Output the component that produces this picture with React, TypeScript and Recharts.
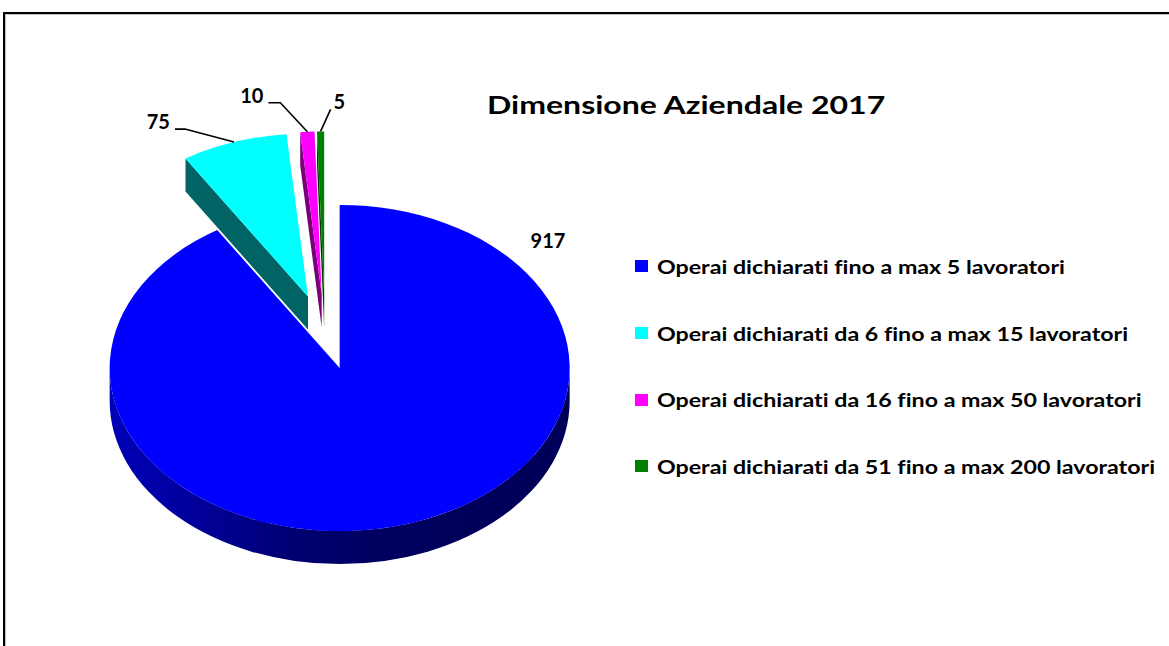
import { Cell, Legend, Pie, PieChart } from 'recharts';

const CATEGORIES = [
  'Operai dichiarati fino a max 5 lavoratori',
  'Operai dichiarati da 6 fino a max 15 lavoratori',
  'Operai dichiarati da 16 fino a max 50 lavoratori',
  'Operai dichiarati da 51 fino a max 200 lavoratori',
];
const VALUES = [917, 75, 10, 5];
const TOP_COLORS = ['#0000ff', '#00ffff', '#ff00ff', '#008000'];
const SIDE_COLORS = ['url(#blueSide)', '#006464', '#7a007a', '#003c00'];
const TITLE = 'Dimensione Aziendale 2017';

const W = 1169;
const H = 646;
const FONT = 'Lato, "Open Sans", sans-serif';
const TILT = 0.709; // ellipse ry / rx
const DEPTH = 33;
const EXPLODE = 0.23;
const RAD = Math.PI / 180;

// where each value label sits: on the ellipse (angle, r) or via a leader elbow from the rim
const LABEL_LAYOUT: any[] = [
  { angle: 41, r: 1.2 },
  { dx: -49, dy: -13, tail: -10 },
  { dx: -27, dy: -29, tail: -12 },
  { dx: 10, dy: -22, tail: 0 },
];

const data = CATEGORIES.map((name, i) => ({ name, value: VALUES[i] }));

function geom(cx: number, cy: number, r: number, mid: number) {
  const rx = r;
  const ry = r * TILT;
  const ox = cx + EXPLODE * rx * Math.cos(mid * RAD);
  const oy = cy - EXPLODE * ry * Math.sin(mid * RAD);
  const at = (a: number, k = 1, dz = 0) => [ox + k * rx * Math.cos(a * RAD), oy - k * ry * Math.sin(a * RAD) + dz];
  return { rx, ry, ox, oy, at };
}

function Slice3D(props: any) {
  const { cx, cy, outerRadius, startAngle, endAngle, midAngle, index } = props;
  const { rx, ry, ox, oy, at } = geom(cx, cy, outerRadius, midAngle);
  const hi = Math.max(startAngle, endAngle);
  const lo = Math.min(startAngle, endAngle);
  const faces: string[] = [];

  // radial walls facing the viewer
  const [mx, my] = at(midAngle, 0.5);
  for (const a of [startAngle, endAngle]) {
    const [qx, qy] = at(a);
    let nx = -(qy - oy);
    let ny = qx - ox;
    if (nx * (mx - ox) + ny * (my - oy) > 0) {
      nx = -nx;
      ny = -ny;
    }
    if (ny > 0.01) faces.push(`M${ox},${oy} L${qx},${qy} L${qx},${qy + DEPTH} L${ox},${oy + DEPTH} Z`);
  }

  // outer rim, front half only
  for (const base of [-540, -180, 180]) {
    const a1 = Math.min(hi, base + 180);
    const a2 = Math.max(lo, base);
    if (a1 > a2) {
      const [x1, y1] = at(a1);
      const [x2, y2] = at(a2);
      const lg = a1 - a2 > 180 ? 1 : 0;
      faces.push(
        `M${x1},${y1} A${rx},${ry} 0 ${lg} 1 ${x2},${y2} L${x2},${y2 + DEPTH} A${rx},${ry} 0 ${lg} 0 ${x1},${y1 + DEPTH} Z`,
      );
    }
  }

  const [sx, sy] = at(startAngle);
  const [ex, ey] = at(endAngle);
  const lg = hi - lo > 180 ? 1 : 0;
  const sweep = startAngle > endAngle ? 1 : 0;
  const top = `M${ox},${oy} L${sx},${sy} A${rx},${ry} 0 ${lg} ${sweep} ${ex},${ey} Z`;

  return (
    <g>
      {index === 0 && (
        <defs>
          <linearGradient id='blueSide' gradientUnits='userSpaceOnUse' x1={ox - rx} x2={ox + rx} y1={0} y2={0}>
            <stop offset='0' stopColor='#0000b8' />
            <stop offset='0.2' stopColor='#000098' />
            <stop offset='0.4' stopColor='#000072' />
            <stop offset='0.6' stopColor='#00005f' />
            <stop offset='1' stopColor='#000058' />
          </linearGradient>
        </defs>
      )}
      {faces.map((d, i) => (
        <path key={i} d={d} fill={SIDE_COLORS[index]} />
      ))}
      <path d={top} fill={TOP_COLORS[index]} />
    </g>
  );
}

function renderLabel(props: any) {
  const { cx, cy, outerRadius, midAngle, index, value } = props;
  const { ox, oy, at } = geom(cx, cy, outerRadius, midAngle);
  const lay = LABEL_LAYOUT[index];
  const txt = { fontFamily: FONT, fontWeight: 700, fontSize: 20, fill: '#000' };
  if (lay.angle !== undefined) {
    const x = ox + lay.r * outerRadius * Math.cos(lay.angle * RAD);
    const y = oy - lay.r * outerRadius * TILT * Math.sin(lay.angle * RAD);
    return (
      <text key={index} x={x} y={y} textAnchor='middle' dominantBaseline='central' style={txt}>
        {value}
      </text>
    );
  }
  const [rx0, ry0] = at(midAngle);
  const ex = rx0 + lay.dx;
  const ey = ry0 + lay.dy;
  const tx = ex + lay.tail;
  const left = lay.tail < 0;
  return (
    <g key={index}>
      <polyline points={`${rx0},${ry0} ${ex},${ey} ${tx},${ey}`} fill='none' stroke='#000' strokeWidth={1.6} />
      <text x={left ? tx - 5 : tx + 3} y={ey} textAnchor={left ? 'end' : 'start'} style={txt}>
        {value}
      </text>
    </g>
  );
}

function LegendBox() {
  return (
    <div style={{ fontFamily: FONT, fontWeight: 700, fontSize: 19.5, color: '#000', fontVariantLigatures: 'none' }}>
      {data.map((d, i) => (
        <div key={d.name} style={{ height: 66.7, display: 'flex', alignItems: 'center', whiteSpace: 'nowrap' }}>
          <span style={{ display: 'inline-block', width: 13, height: 12, background: TOP_COLORS[i], marginRight: 9 }} />
          <span style={{ display: 'inline-block', transform: 'scaleX(1.19)', transformOrigin: 'left center' }}>
            {d.name}
          </span>
        </div>
      ))}
    </div>
  );
}

export default function App() {
  return (
    <div style={{ position: 'absolute', left: 0, top: 0, width: W, height: H, background: '#fff', overflow: 'hidden' }}>
      <div
        style={{
          position: 'absolute',
          left: 3,
          top: 12,
          width: W,
          height: H,
          borderTop: '2px solid #000',
          borderLeft: '2px solid #000',
          boxShadow: 'inset 1px 1px 0 #c0c0c0',
        }}
      />
      <div
        style={{
          position: 'absolute',
          left: 487,
          top: 92,
          fontFamily: FONT,
          fontWeight: 700,
          fontSize: 25,
          lineHeight: 1,
          color: '#000',
          whiteSpace: 'nowrap',
          transform: 'scaleX(1.28)',
          transformOrigin: 'left center',
        }}
      >
        {TITLE}
      </div>
      <div style={{ position: 'absolute', left: 0, top: 0 }}>
        <PieChart width={W} height={H} margin={{ top: 0, right: 0, bottom: 0, left: 0 }}>
          <Pie
            data={data}
            dataKey='value'
            nameKey='name'
            cx={325}
            cy={332}
            outerRadius={230}
            startAngle={90}
            endAngle={-270}
            stroke='none'
            shape={Slice3D}
            activeShape={Slice3D}
            inactiveShape={Slice3D}
            label={renderLabel}
            labelLine={false}
            isAnimationActive={false}
          >
            {data.map((d, i) => (
              <Cell key={d.name} fill={TOP_COLORS[i]} />
            ))}
          </Pie>
          <Legend
            layout='vertical'
            align='right'
            verticalAlign='top'
            content={<LegendBox />}
            wrapperStyle={{ position: 'absolute', left: 635, top: 233, width: 530 }}
          />
        </PieChart>
      </div>
    </div>
  );
}
